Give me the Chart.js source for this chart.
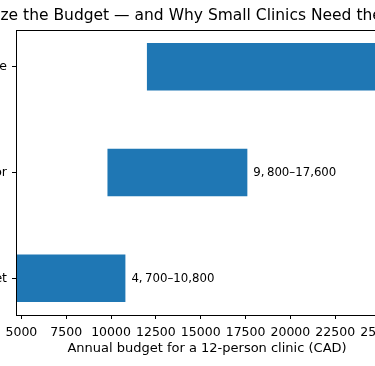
<!DOCTYPE html>
<html>
<head>
<meta charset="utf-8">
<script src="https://cdn.jsdelivr.net/npm/chart.js@4"></script>
<style>
  html, body { margin: 0; padding: 0; width: 375px; height: 366px; overflow: hidden; background: #fff; }
  #wrap { position: absolute; top: 0; }
</style>
</head>
<body>
<div id="wrap"><canvas id="c" height="366"></canvas></div>
<script>
// ---- data ----
const chartTitle = 'Right-Size the Budget \u2014 and Why Small Clinics Need the Middle Tier';
const categories = ['Lean in-house budget', 'Managed IT vendor', 'Full-service enterprise'];
const lowValues  = [4700, 9800, 12000];
const highValues = [10800, 17600, 26000];
const xTicks = [5000, 7500, 10000, 12500, 15000, 17500, 20000, 22500, 25000];
const xMin = 4700;
const xMax = 26000;
const xLabel = 'Annual budget for a 12-person clinic (CAD)';

// ---- layout (the reference is a crop of a wider figure) ----
const FONT = 'DejaVu Sans';
const TITLE_SIZE = 15.5;
const HIDDEN_LEFT = 200;   // canvas part hidden left of the viewport
const AXIS_LEFT = 16;      // visible x of the left spine
const AXIS_RIGHT = 398;    // x of the (off-screen) right spine
const TITLE_VISIBLE_PREFIX = 'Right-Si'; // part of the title cut off at the left edge

const mctx = document.createElement('canvas').getContext('2d');
mctx.font = TITLE_SIZE + 'px "' + FONT + '"';
const titleW = mctx.measureText(chartTitle).width;
const prefixW = mctx.measureText(TITLE_VISIBLE_PREFIX).width;
const titleCenter = HIDDEN_LEFT - prefixW + titleW / 2;
const canvasW = Math.ceil(2 * titleCenter);
const rightPad = canvasW - (HIDDEN_LEFT + AXIS_RIGHT);

const cv = document.getElementById('c');
cv.width = canvasW;
document.getElementById('wrap').style.left = (-HIDDEN_LEFT) + 'px';

function fmtComma(v) { return String(v).replace(/\B(?=(\d{3})+(?!\d))/g, ','); }
function rangeLabel(lo, hi) {
  // matplotlib mathtext rendering of "$lo–$hi": thin space after the first comma
  return fmtComma(lo).replace(',', ',\u2009') + '\u2013' + fmtComma(hi);
}

const points = categories.map((c, i) => ({ x: [lowValues[i], highValues[i]], y: i }));

const frame = {
  id: 'frame',
  afterDatasetsDraw(chart) {
    const { ctx, chartArea: a } = chart;
    ctx.save();
    ctx.strokeStyle = '#000';
    ctx.lineWidth = 1;
    ctx.strokeRect(Math.round(a.left) + 0.5, Math.round(a.top) + 0.5,
                   Math.round(a.right - a.left), Math.round(a.bottom - a.top));
    ctx.restore();
  }
};

const barLabels = {
  id: 'barLabels',
  afterDatasetsDraw(chart) {
    const { ctx } = chart;
    const meta = chart.getDatasetMeta(0);
    ctx.save();
    ctx.font = '11.75px "' + FONT + '"';
    ctx.fillStyle = '#000';
    ctx.textBaseline = 'middle';
    ctx.textAlign = 'left';
    meta.data.forEach((el, i) => {
      ctx.fillText(rangeLabel(lowValues[i], highValues[i]), el.x + 6, el.y + 0.5);
    });
    ctx.restore();
  }
};

new Chart(cv, {
  type: 'bar',
  data: {
    datasets: [{
      data: points,
      backgroundColor: '#1f77b4',
      borderWidth: 0,
      barPercentage: 0.45,
      categoryPercentage: 1.0,
      yAxisID: 'y'
    }]
  },
  options: {
    indexAxis: 'y',
    responsive: false,
    animation: false,
    layout: { padding: 0 },
    plugins: {
      legend: { display: false },
      tooltip: { enabled: false },
      title: {
        display: true,
        text: chartTitle,
        fullSize: true,
        color: '#000',
        font: { family: FONT, size: TITLE_SIZE, weight: 'normal', lineHeight: 1.2 },
        padding: { top: 6.5, bottom: 4.9 }
      }
    },
    scales: {
      x: {
        type: 'linear',
        min: xMin,
        max: xMax,
        afterBuildTicks(s) { s.ticks = xTicks.map(v => ({ value: v })); },
        afterFit(s) { s.height = 51; },
        grid: { display: true, drawOnChartArea: false, drawTicks: true, tickLength: 4, color: '#000' },
        border: { display: true, color: '#000', width: 1 },
        ticks: {
          color: '#000', padding: 6, maxRotation: 0, autoSkip: false,
          font: { family: FONT, size: 12.5 },
          callback: v => String(v)
        },
        title: {
          display: true, text: xLabel, color: '#000',
          font: { family: FONT, size: 13, lineHeight: 1.2 },
          padding: { top: 0, bottom: 10 }
        }
      },
      y: {
        type: 'linear',
        position: 'left',
        min: -0.3475,
        max: 2.3475,
        offset: false,
        afterBuildTicks(s) { s.ticks = categories.map((c, i) => ({ value: i })); },
        afterFit(s) { s.width = HIDDEN_LEFT + AXIS_LEFT; },
        grid: { display: true, offset: false, drawOnChartArea: false, drawTicks: true, tickLength: 4, color: '#000' },
        border: { display: true, color: '#000', width: 1 },
        ticks: {
          color: '#000', padding: 5, autoSkip: false,
          font: { family: FONT, size: 12.5 },
          callback: v => categories[v]
        }
      },
      yRight: {
        type: 'linear',
        position: 'right',
        display: true,
        grid: { display: false },
        border: { display: false },
        ticks: { display: false },
        afterFit(s) { s.width = rightPad; }
      }
    }
  },
  plugins: [frame, barLabels]
});
</script>
</body>
</html>
